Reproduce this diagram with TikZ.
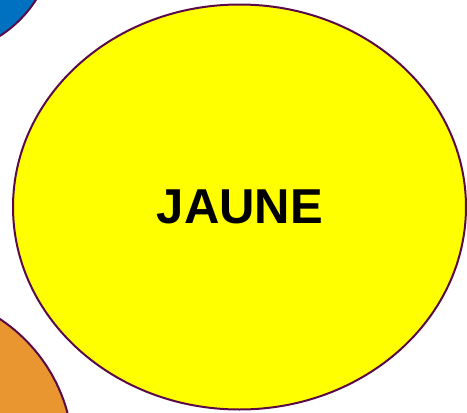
\documentclass[tikz,border=0pt]{standalone}
\usepackage{fontspec}
\setmainfont{Liberation Sans}
\definecolor{edge}{HTML}{5A0A48}
\definecolor{jaune}{HTML}{FFFF00}
\definecolor{bleu}{HTML}{0070C0}
\definecolor{orange}{HTML}{E99530}
\tikzset{blob/.style={draw=edge, line width=2pt}}
\begin{document}
\begin{tikzpicture}[x=1pt,y=-1pt]
\useasboundingbox (0,0) rectangle (467,413);
\begin{scope}
\clip (0,0) rectangle (467,413);
\node[blob, fill=bleu, circle, minimum size=240pt, inner sep=0pt] (bleu) at (-65,-65) {};
\node[blob, fill=orange, circle, minimum size=326pt, inner sep=0pt] (orange) at (-90,455) {};
\draw[blob, fill=jaune] (239.5,207) ellipse [x radius=226.5, y radius=202.5];
\end{scope}
\node[font=\bfseries\fontsize{49}{49}\selectfont, inner sep=0pt] (jaune) at (240,207) {JAUNE};
\end{tikzpicture}
\end{document}
